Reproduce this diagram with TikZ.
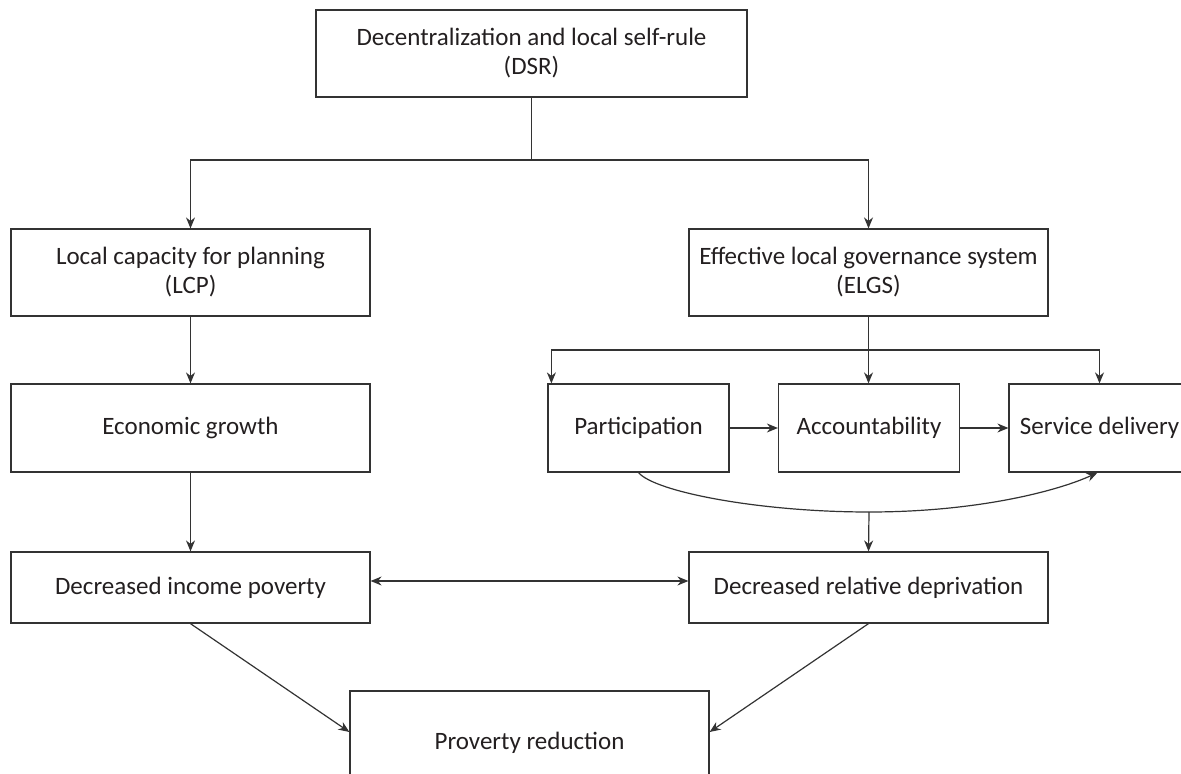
\documentclass[tikz,border=0pt]{standalone}
\usepackage{fontspec}
\setmainfont{Carlito}
\usetikzlibrary{arrows.meta}
\definecolor{linec}{HTML}{333333}
\definecolor{textc}{HTML}{231F20}
\begin{document}
\begin{tikzpicture}[x=0.5pt,y=-0.5pt,
  box/.style={draw=linec, line width=0.6pt, inner sep=0pt, align=center,
    font=\fontsize{12.5}{14.5}\selectfont, text=textc},
  wide/.style={box, minimum width=179.5pt, minimum height=43.5pt},
  small/.style={box, minimum width=90.5pt, minimum height=44pt},
  conn/.style={draw=linec, line width=0.6pt},
  arr/.style={conn, -{Stealth[length=5.5pt,width=4.5pt]}},
  darr/.style={conn, {Stealth[length=5.5pt,width=4.5pt]}-{Stealth[length=5.5pt,width=4.5pt]}}]
\useasboundingbox (0,0) rectangle (1181,774);
\clip (0,0) rectangle (1181,774);
\node[box, minimum width=215.5pt, minimum height=43.5pt] (dsr) at (531.5,53.5) {Decentralization and local self-rule\\(DSR)};
\node[wide] (lcp) at (190.5,272.5) {Local capacity for planning\\(LCP)};
\node[wide] (elgs) at (868.5,272.5) {Effective local governance system\\(ELGS)};
\node[wide, minimum height=44pt] (eg) at (190.5,428) {Economic growth};
\node[small] (part) at (638.5,428) {Participation};
\node[small] (acc) at (869,428) {Accountability};
\node[small] (sd) at (1099.5,428) {Service delivery};
\node[wide, minimum height=35.5pt] (dip) at (190.5,587.5) {Decreased income poverty};
\node[wide, minimum height=35.5pt] (drd) at (868.5,587.5) {Decreased relative deprivation};
\node[wide, minimum height=52pt] (pr) at (529.5,743) {Proverty reduction};
\coordinate (split) at (531.5,160);
\draw[conn] (dsr.south) -- (split);
\draw[arr] (split) -| (lcp.north);
\draw[arr] (split) -| (elgs.north);
\draw[arr] (lcp) -- (eg);
\draw[arr] (eg) -- (dip);
\coordinate (split2) at (868.5,350);
\draw[conn] (elgs.south) -- (split2);
\draw[arr] (split2) -| ([xshift=2pt]part.north west);
\draw[arr] (split2) -- (acc.north -| split2);
\draw[arr] (split2) -| (sd.north);
\draw[arr] (part) -- (acc);
\draw[arr] (acc) -- (sd);
\coordinate (m) at (869,512);
\draw[arr] (part.south) .. controls (655,492) and (760,512) .. (m)
  .. controls (980,512) and (1060,490) .. ([xshift=-1pt]sd.south);
\draw[arr] (m) -- (drd.north);
\draw[darr] ([yshift=3.25pt]dip.east) -- ([yshift=3.25pt]drd.west);
\draw[arr] ([xshift=90pt]dip.south west) -- ([yshift=5.5pt]pr.west);
\draw[arr] (drd.south) -- ([yshift=5.5pt]pr.east);
\end{tikzpicture}
\end{document}
